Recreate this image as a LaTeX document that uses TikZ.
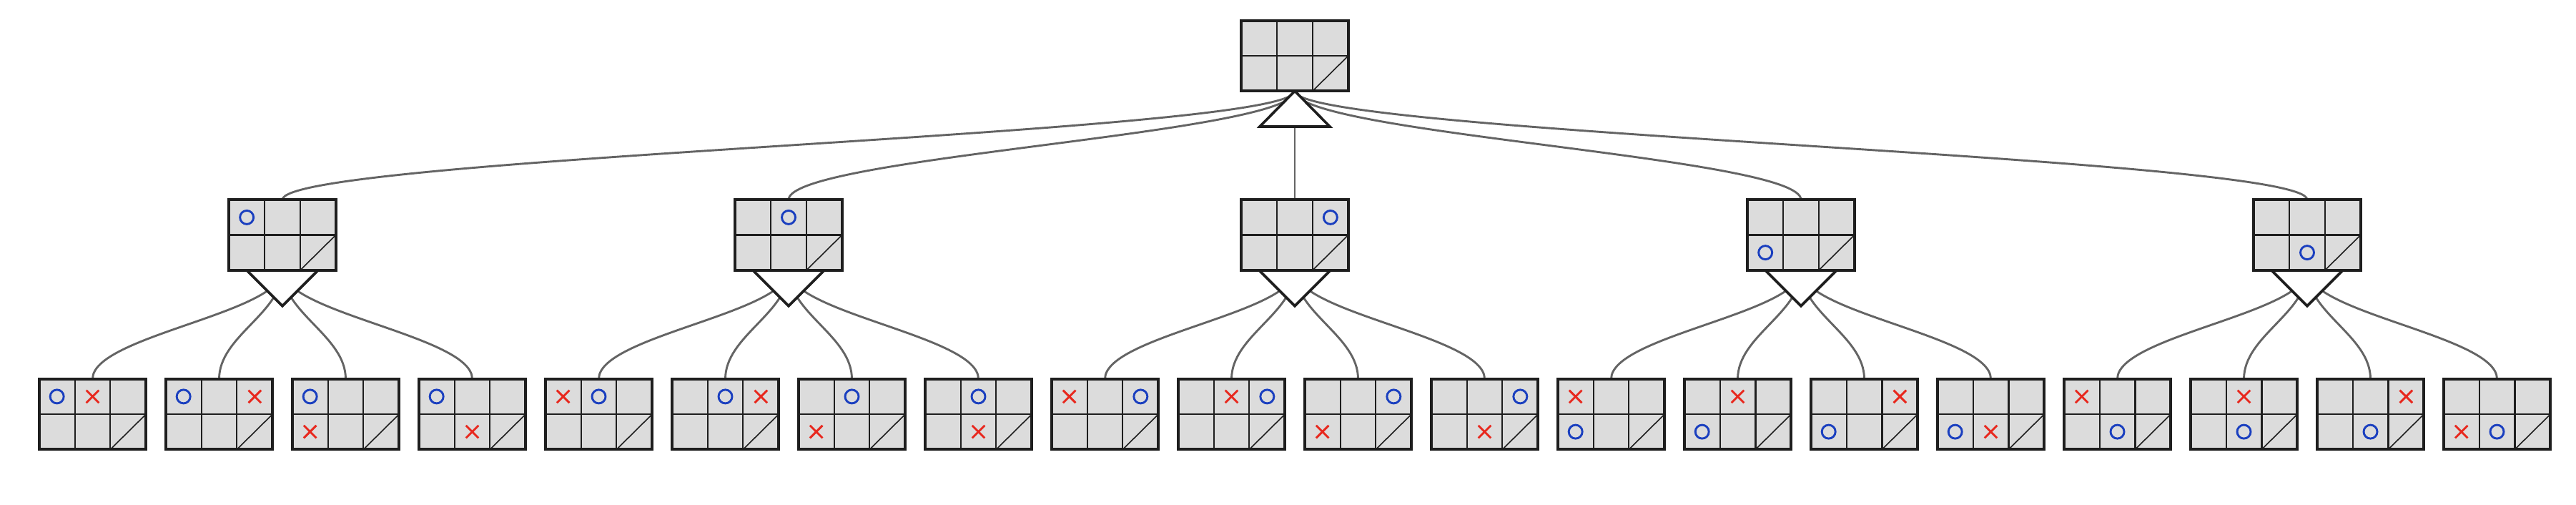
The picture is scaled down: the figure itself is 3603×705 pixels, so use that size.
\documentclass[tikz,border=0pt]{standalone}
\usetikzlibrary{calc}
\pgfdeclarelayer{edgelayer}
\pgfdeclarelayer{trilayer}
\pgfsetlayers{edgelayer,trilayer,main}
\definecolor{bord}{HTML}{1E1E1E}
\definecolor{cellg}{HTML}{DCDCDC}
\definecolor{edgec}{HTML}{646464}
\definecolor{oblue}{HTML}{1A3FBF}
\definecolor{xred}{HTML}{E8281E}
\tikzset{
  board/.style={draw=bord, fill=cellg, line width=3.6pt, minimum width=149.5pt,
    minimum height=98.5pt, inner sep=0pt, outer sep=0pt},
  gridl/.style={draw=bord, line width=2.1pt},
  diagl/.style={draw=bord, line width=1.6pt},
  omark/.style={draw=oblue, line width=2.9pt},
  xmark/.style={draw=xred, line width=2.9pt},
  edge/.style={draw=edgec, line width=2.9pt},
  tri/.style={draw=bord, fill=white, line width=3.6pt, line join=miter},
}
\newcommand\brd[3]{%
  \node[board] (#1) at (#2,#3) {};
  \draw[gridl] ({#2-24.92},{#3-49.25}) -- ({#2-24.92},{#3+49.25});
  \draw[gridl] ({#2+24.92},{#3-49.25}) -- ({#2+24.92},{#3+49.25});
  \draw[gridl] ({#2-74.75},{#3}) -- ({#2+74.75},{#3});
  \draw[diagl] ({#2+24.92},{#3-49.25}) -- ({#2+74.75},{#3});
}
\newcommand\mks[3]{%
  \foreach \t/\c/\r in {#3} {%
    \ifnum\t=0
      \draw[omark] ({#1+(\c-1)*49.83},{#2+24.6-\r*49.2}) circle[radius=9.5];
    \else
      \draw[xmark] ({#1+(\c-1)*49.83-8.8},{#2+24.6-\r*49.2-8.8}) -- ++(17.6,17.6)
        ++(-17.6,0) -- ++(17.6,-17.6);
    \fi
  }%
}
\newcommand\maxtri[1]{%
  \begin{pgfonlayer}{trilayer}
  \draw[tri] (#1.south) -- ++(-49,-49.75) -- ++(98,0) -- cycle;
  \end{pgfonlayer}}
\newcommand\mintri[1]{%
  \begin{pgfonlayer}{trilayer}
  \draw[tri] ($(#1.south)+(-50,0)$) -- ($(#1.south)+(0,-50)$) -- ($(#1.south)+(50,0)$) -- cycle;
  \end{pgfonlayer}}
\newcommand\edg[2]{%
  \begin{pgfonlayer}{edgelayer}
  \draw[edge] (#1.south) .. controls +(0,-60) and +(0,60) .. (#2.north);
  \end{pgfonlayer}}
\begin{document}
\begin{tikzpicture}[x=1pt,y=1pt]
\useasboundingbox (0,0) rectangle (3603,705);
% root
\brd{r}{1811}{627}
\maxtri{r}
% level 2
\brd{a1}{395}{376.5}  \mks{395}{376.5}{0/0/0}
\brd{a2}{1103}{376.5} \mks{1103}{376.5}{0/1/0}
\brd{a3}{1811}{376.5} \mks{1811}{376.5}{0/2/0}
\brd{a4}{2519}{376.5} \mks{2519}{376.5}{0/0/1}
\brd{a5}{3227}{376.5} \mks{3227}{376.5}{0/1/1}
\foreach \n in {a1,a2,a3,a4,a5} {\mintri{\n}}
\foreach \n in {a1,a2,a3,a4,a5} {\edg{r}{\n}}
% leaves
\brd{l1}{129.5}{126}  \mks{129.5}{126}{0/0/0,1/1/0}
\brd{l2}{306.5}{126}  \mks{306.5}{126}{0/0/0,1/2/0}
\brd{l3}{483.5}{126}  \mks{483.5}{126}{0/0/0,1/0/1}
\brd{l4}{660.5}{126}  \mks{660.5}{126}{0/0/0,1/1/1}
\brd{l5}{837.5}{126}  \mks{837.5}{126}{1/0/0,0/1/0}
\brd{l6}{1014.5}{126} \mks{1014.5}{126}{0/1/0,1/2/0}
\brd{l7}{1191.5}{126} \mks{1191.5}{126}{0/1/0,1/0/1}
\brd{l8}{1368.5}{126} \mks{1368.5}{126}{0/1/0,1/1/1}
\brd{l9}{1545.5}{126} \mks{1545.5}{126}{1/0/0,0/2/0}
\brd{l10}{1722.5}{126} \mks{1722.5}{126}{1/1/0,0/2/0}
\brd{l11}{1899.5}{126} \mks{1899.5}{126}{0/2/0,1/0/1}
\brd{l12}{2076.5}{126} \mks{2076.5}{126}{0/2/0,1/1/1}
\brd{l13}{2253.5}{126} \mks{2253.5}{126}{1/0/0,0/0/1}
\brd{l14}{2430.5}{126} \mks{2430.5}{126}{1/1/0,0/0/1}
\brd{l15}{2607.5}{126} \mks{2607.5}{126}{1/2/0,0/0/1}
\brd{l16}{2784.5}{126} \mks{2784.5}{126}{0/0/1,1/1/1}
\brd{l17}{2961.5}{126} \mks{2961.5}{126}{1/0/0,0/1/1}
\brd{l18}{3138.5}{126} \mks{3138.5}{126}{1/1/0,0/1/1}
\brd{l19}{3315.5}{126} \mks{3315.5}{126}{1/2/0,0/1/1}
\brd{l20}{3492.5}{126} \mks{3492.5}{126}{1/0/1,0/1/1}
\foreach \p/\ch in {a1/l1,a1/l2,a1/l3,a1/l4,a2/l5,a2/l6,a2/l7,a2/l8,
  a3/l9,a3/l10,a3/l11,a3/l12,a4/l13,a4/l14,a4/l15,a4/l16,
  a5/l17,a5/l18,a5/l19,a5/l20} {\edg{\p}{\ch}}
\end{tikzpicture}
\end{document}
